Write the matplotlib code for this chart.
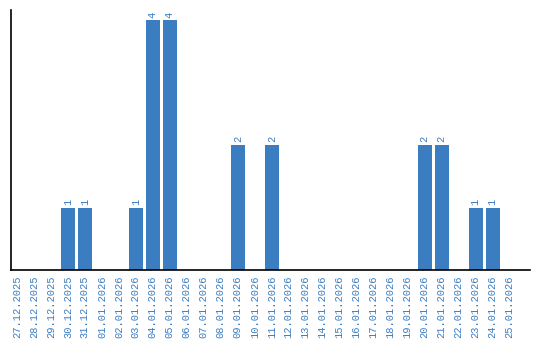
import matplotlib
matplotlib.use("Agg")
import matplotlib.pyplot as plt
import numpy as np

dates = ["27.12.2025", "28.12.2025", "29.12.2025", "30.12.2025", "31.12.2025",
         "01.01.2026", "02.01.2026", "03.01.2026", "04.01.2026", "05.01.2026",
         "06.01.2026", "07.01.2026", "08.01.2026", "09.01.2026", "10.01.2026",
         "11.01.2026", "12.01.2026", "13.01.2026", "14.01.2026", "15.01.2026",
         "16.01.2026", "17.01.2026", "18.01.2026", "19.01.2026", "20.01.2026",
         "21.01.2026", "22.01.2026", "23.01.2026", "24.01.2026", "25.01.2026"]
counts = [0, 0, 0, 1, 1, 0, 0, 1, 4, 4, 0, 0, 0, 2, 0,
          2, 0, 0, 0, 0, 0, 0, 0, 0, 2, 2, 0, 1, 1, 0]

blue = "#3a7dc1"
plt.rcParams["font.family"] = ["Liberation Mono", "DejaVu Sans Mono"]

fig = plt.figure(figsize=(5.4, 3.4), dpi=100)
ax = fig.add_axes([11 / 540, 1 - 270 / 340, 519 / 540, 260 / 340])
x = np.arange(len(dates))
ax.bar(x, counts, width=0.82, color=blue)
for xi, v in zip(x, counts):
    if v:
        ax.text(xi, v + 0.04, str(v), rotation=90, ha="center", va="bottom",
                color=blue, fontsize=7.5)

ax.set_xlim(-0.35, 30.2)
ax.set_ylim(0, 4.16)
ax.set_xticks(x)
ax.set_xticklabels(dates, rotation=90, color=blue, fontsize=7.5)
ax.tick_params(axis="x", length=0, pad=4)
ax.set_yticks([])
ax.spines["top"].set_visible(False)
ax.spines["right"].set_visible(False)
ax.spines["left"].set_linewidth(1.2)
ax.spines["bottom"].set_linewidth(1.2)

fig.savefig("out.png", dpi=100)
